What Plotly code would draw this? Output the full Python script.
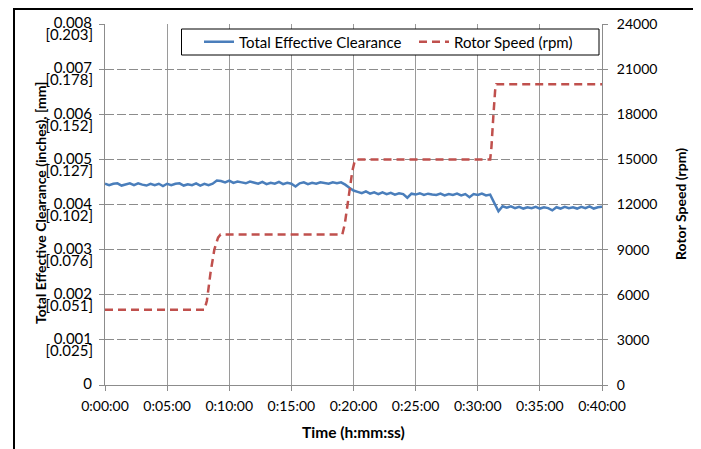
import plotly.graph_objects as go

# ---------------- data ----------------
x_tick_vals = [0, 300, 600, 900, 1200, 1500, 1800, 2100, 2400]
x_tick_text = ["0:00:00", "0:05:00", "0:10:00", "0:15:00", "0:20:00",
               "0:25:00", "0:30:00", "0:35:00", "0:40:00"]

y_tick_vals = [0, 0.001, 0.002, 0.003, 0.004, 0.005, 0.006, 0.007, 0.008]
y_tick_inch = ["0", "0.001", "0.002", "0.003", "0.004", "0.005", "0.006", "0.007", "0.008"]
y_tick_mm = ["", "[0.025]", "[0.051]", "[0.076]", "[0.102]", "[0.127]", "[0.152]", "[0.178]", "[0.203]"]

y2_tick_vals = [0, 3000, 6000, 9000, 12000, 15000, 18000, 21000, 24000]
y2_tick_text = ["0", "3000", "6000", "9000", "12000", "15000", "18000", "21000", "24000"]

series_names = ["Total Effective Clearance", "Rotor Speed (rpm)"]

# clearance sampled every 20 s (seconds 0..2400)
clear_time_s = list(range(0, 2401, 20))
clearance_in = [
    0.00446, 0.00443, 0.00446, 0.00447, 0.00442, 0.00445, 0.00447, 0.00443, 0.00447, 0.00444,
    0.00442, 0.00446, 0.00443, 0.00446, 0.00441, 0.00446, 0.00443, 0.00446, 0.00447, 0.00442,
    0.00445, 0.00443, 0.00447, 0.00442, 0.00446, 0.00443,
    0.00446, 0.00453, 0.00452, 0.00449, 0.00453, 0.00448, 0.00451, 0.00449, 0.00447, 0.00451,
    0.00448, 0.00446, 0.00450, 0.00445, 0.00448, 0.00446, 0.00450, 0.00445, 0.00448, 0.00446,
    0.00440, 0.00447, 0.00449, 0.00445, 0.00448, 0.00446, 0.00449, 0.00447, 0.00446, 0.00449,
    0.00447, 0.00449, 0.00444, 0.00437, 0.00431, 0.00428, 0.00425, 0.00429, 0.00424, 0.00427,
    0.00423, 0.00427, 0.00423, 0.00426, 0.00422, 0.00425, 0.00423, 0.00415, 0.00424, 0.00422,
    0.00425, 0.00421, 0.00424, 0.00422, 0.00421, 0.00424, 0.00420, 0.00423, 0.00421, 0.00424,
    0.00420, 0.00423, 0.00416, 0.00423, 0.00421, 0.00424, 0.00420, 0.00422, 0.00405, 0.00385,
    0.00396, 0.00393, 0.00396, 0.00392, 0.00395, 0.00391, 0.00394, 0.00392, 0.00395, 0.00391,
    0.00394, 0.00392, 0.00387, 0.00394, 0.00391, 0.00395, 0.00392, 0.00394, 0.00391, 0.00395,
    0.00392, 0.00396, 0.00391, 0.00394, 0.00395,
]

rotor_time_s = [0, 480, 492, 510, 528, 546, 558, 1146, 1158, 1176, 1194, 1206, 1212,
                1860, 1866, 1875, 1884, 1890, 2400]
rotor_rpm = [5000, 5000, 5600, 7500, 9000, 9800, 10000, 10000, 10700, 12500, 14200, 14900, 15000,
             15000, 15800, 17800, 19600, 20000, 20000]

# ---------------- figure ----------------
FONT = "Lato"
AX = "#8c8c8c"
OFF = 8            # page offset of the plot div
W, H = 693, 441
ML, MR, MT, MB = 97, 99, 16, 64
PW, PH = W - ML - MR, H - MT - MB


def px_x(p):   # p: pixel x in the final screenshot
    return (p - OFF - ML) / PW


def px_y(p):   # p: pixel y in the final screenshot
    return (H - MB - (p - OFF)) / PH


fig = go.Figure()
fig.add_trace(go.Scatter(
    x=clear_time_s, y=clearance_in, name=series_names[0],
    mode="lines", line=dict(color="#4A7EBB", width=2.5), yaxis="y"))
fig.add_trace(go.Scatter(
    x=rotor_time_s, y=rotor_rpm, name=series_names[1],
    mode="lines", line=dict(color="#C0504D", width=2.5, dash="8px,5px"), yaxis="y2"))
# carrier for the millimetre tick labels (invisible)
fig.add_trace(go.Scatter(
    x=clear_time_s, y=clearance_in, yaxis="y3", mode="lines",
    line=dict(color="rgba(0,0,0,0)", width=0), opacity=0,
    showlegend=False, hoverinfo="skip"))

fig.update_layout(
    width=W, height=H,
    margin=dict(l=ML, r=MR, t=MT, b=MB, pad=0, autoexpand=False),
    paper_bgcolor="white", plot_bgcolor="white",
    font=dict(family=FONT, size=14, color="black"),
    showlegend=True,
    legend=dict(orientation="h", x=px_x(199), xanchor="left", y=px_y(42), yanchor="middle",
                bgcolor="rgba(0,0,0,0)", borderwidth=0, font=dict(size=15, family=FONT),
                entrywidth=170, entrywidthmode="pixels", itemwidth=30),
    xaxis=dict(range=[0, 2400], tickvals=x_tick_vals, ticktext=x_tick_text,
               showgrid=True, gridcolor="#9a9a9a", gridwidth=1, zeroline=False,
               showline=True, linecolor=AX, linewidth=1, automargin=False,
               ticks="outside", ticklen=5, tickcolor=AX, tickfont=dict(size=14),
               ticklabelstandoff=3),
    yaxis=dict(range=[0, 0.008], tickvals=y_tick_vals, ticktext=y_tick_inch,
               showgrid=True, gridcolor="#8c8c8c", griddash="9px,3px", gridwidth=1,
               zeroline=False, showline=True, linecolor=AX, linewidth=1, automargin=False,
               ticks="outside", ticklen=5, tickcolor=AX, tickfont=dict(size=15),
               ticklabelstandoff=4, ticklabelshift=-1),
    yaxis3=dict(range=[0, 0.008], tickvals=y_tick_vals, ticktext=y_tick_mm,
                overlaying="y", side="left", anchor="x", automargin=False,
                showgrid=False, zeroline=False, showline=False,
                ticks="outside", ticklen=5, tickcolor="rgba(0,0,0,0)",
                tickfont=dict(size=15), ticklabelstandoff=3, ticklabelshift=11),
    yaxis2=dict(range=[0, 24000], tickvals=y2_tick_vals, ticktext=y2_tick_text,
                overlaying="y", side="right", automargin=False,
                anchor="x", showgrid=False, zeroline=False, showline=True,
                linecolor=AX, linewidth=1, ticks="outside", ticklen=5, tickcolor=AX,
                tickfont=dict(size=14), ticklabelstandoff=6),
)

# legend frame and outer chart border
fig.add_shape(type="rect", xref="paper", yref="paper",
              x0=px_x(181.5), x1=px_x(599), y0=px_y(55), y1=px_y(29),
              line=dict(color="black", width=1), fillcolor="white", layer="above")
fig.add_shape(type="rect", xref="paper", yref="paper",
              x0=px_x(14), x1=px_x(695), y0=px_y(470), y1=px_y(9),
              line=dict(color="black", width=2), fillcolor="rgba(0,0,0,0)", layer="above")

# axis titles
fig.add_annotation(text="<b>Total Effective Clearance (inches), [mm]</b>",
                   xref="paper", yref="paper", x=px_x(40), y=px_y(203),
                   xanchor="center", yanchor="middle", textangle=-90,
                   showarrow=False, font=dict(size=14, family=FONT))
fig.add_annotation(text="<b>Rotor Speed (rpm)</b>",
                   xref="paper", yref="paper", x=px_x(680), y=px_y(204),
                   xanchor="center", yanchor="middle", textangle=-90,
                   showarrow=False, font=dict(size=14, family=FONT))
fig.add_annotation(text="<b>Time (h:mm:ss)</b>",
                   xref="paper", yref="paper", x=px_x(353), y=px_y(432),
                   xanchor="center", yanchor="middle",
                   showarrow=False, font=dict(size=15.5, family=FONT))

fig.write_html("out.html")
